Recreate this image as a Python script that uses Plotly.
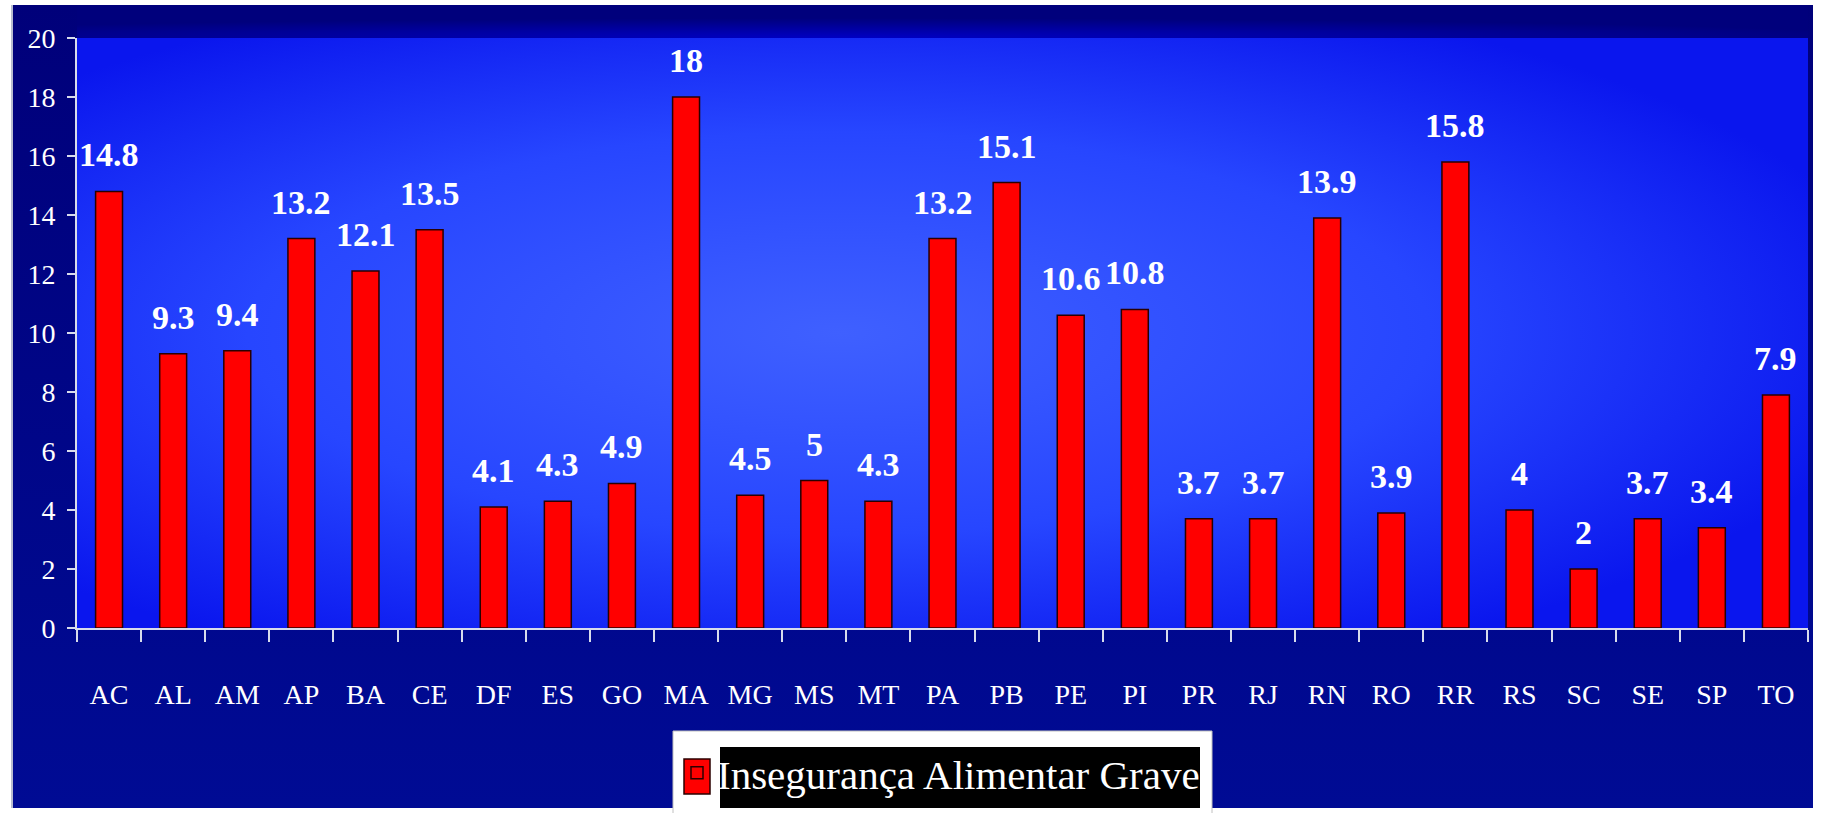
import base64
import plotly.graph_objects as go

# ---- data ----
states = ["AC", "AL", "AM", "AP", "BA", "CE", "DF", "ES", "GO", "MA", "MG", "MS", "MT", "PA",
          "PB", "PE", "PI", "PR", "RJ", "RN", "RO", "RR", "RS", "SC", "SE", "SP", "TO"]
grave = [14.8, 9.3, 9.4, 13.2, 12.1, 13.5, 4.1, 4.3, 4.9, 18, 4.5, 5, 4.3, 13.2,
         15.1, 10.6, 10.8, 3.7, 3.7, 13.9, 3.9, 15.8, 4, 2, 3.7, 3.4, 7.9]
series_name = "Insegurança Alimentar Grave"
y_ticks = list(range(0, 21, 2))

# ---- layout geometry (pixels) ----
W, H = 1825, 813
ML, MR, MT, MB = 77, 17, 38, 185
PW, PH = W - ML - MR, H - MT - MB


def px_x(p):
    return (p - ML) / PW


def px_y(p):
    return (H - MB - p) / PH


svg = f'''<svg xmlns="http://www.w3.org/2000/svg" width="{W}" height="{H}" viewBox="0 0 {W} {H}" preserveAspectRatio="none">
<defs>
<linearGradient id="nav" x1="0" y1="0" x2="0" y2="1"><stop offset="0" stop-color="#00007a"/><stop offset="1" stop-color="#000b94"/></linearGradient>
<radialGradient id="top" cx="0.45" cy="1" r="0.6"><stop offset="0" stop-color="#0000c4"/><stop offset="1" stop-color="#00007c"/></radialGradient>
<radialGradient id="glow" cx="0.44" cy="0.5" r="0.62"><stop offset="0" stop-color="#3f60ff"/><stop offset="0.55" stop-color="#2746ff"/><stop offset="1" stop-color="#0a16ee"/></radialGradient>
</defs>
<rect x="11" y="5" width="1802" height="803" fill="#b8bcd0"/>
<rect x="13" y="5" width="1800" height="803" fill="url(#nav)"/>
<rect x="{ML}" y="5" width="{PW}" height="{MT-5}" fill="url(#top)"/>
<rect x="{ML}" y="{MT}" width="{PW}" height="{PH}" fill="url(#glow)"/>
</svg>'''
svg_uri = "data:image/svg+xml;base64," + base64.b64encode(svg.encode()).decode()

fig = go.Figure()
fig.add_trace(go.Bar(
    x=states, y=grave, name=series_name,
    marker=dict(color="#ff0000", line=dict(color="#2a0000", width=1.5)),
    width=0.42, showlegend=True,
))

for s, v in zip(states, grave):
    fig.add_annotation(
        x=s, y=v, text=f"{v:g}", showarrow=False, yanchor="bottom", yshift=16,
        font=dict(family="Liberation Serif", size=34, color="white", weight="bold"),
    )

axis_col = "#d8dcec"
fig.update_layout(
    width=W, height=H,
    margin=dict(l=ML, r=MR, t=MT, b=MB, pad=0, autoexpand=False),
    paper_bgcolor="white",
    plot_bgcolor="rgba(0,0,0,0)",
    font=dict(family="Liberation Serif", color="white"),
    xaxis=dict(
        type="category", tickson="boundaries", ticks="outside", ticklen=12, tickwidth=2,
        tickcolor=axis_col, showline=True, linecolor=axis_col, linewidth=2, showgrid=False,
        tickfont=dict(family="Liberation Serif", size=28, color="white"),
        ticklabelstandoff=40, range=[-0.5, len(states) - 0.5], automargin=False,
    ),
    yaxis=dict(
        range=[0, 20], tickvals=y_ticks, ticks="outside", ticklen=8, tickwidth=2,
        tickcolor=axis_col, showline=True, linecolor=axis_col, linewidth=2, showgrid=False,
        zeroline=False, tickfont=dict(family="Liberation Serif", size=28, color="white"),
        ticklabelstandoff=6, automargin=False,
    ),
    legend=dict(
        orientation="h", x=px_x(677), y=px_y(773), xanchor="left", yanchor="middle",
        bgcolor="rgba(0,0,0,0)", borderwidth=0,
        font=dict(family="Liberation Serif", size=41, color="white"),
    ),
    images=[dict(
        source=svg_uri, xref="paper", yref="paper", x=px_x(0), y=px_y(0),
        sizex=W / PW, sizey=H / PH, xanchor="left", yanchor="top",
        sizing="stretch", layer="below",
    )],
    shapes=[
        dict(type="rect", xref="paper", yref="paper", x0=px_x(673), x1=px_x(1212),
             y0=px_y(731), y1=px_y(814), fillcolor="white", line=dict(color="#c0c0c0", width=1)),
        dict(type="rect", xref="paper", yref="paper", x0=px_x(720), x1=px_x(1200),
             y0=px_y(747), y1=px_y(808), fillcolor="black", line=dict(width=0)),
        dict(type="rect", xref="paper", yref="paper", x0=px_x(684), x1=px_x(710),
             y0=px_y(759), y1=px_y(794), fillcolor="#ff0000", line=dict(color="#2a0000", width=1.5)),
    ],
)

fig.write_html("out.html")
